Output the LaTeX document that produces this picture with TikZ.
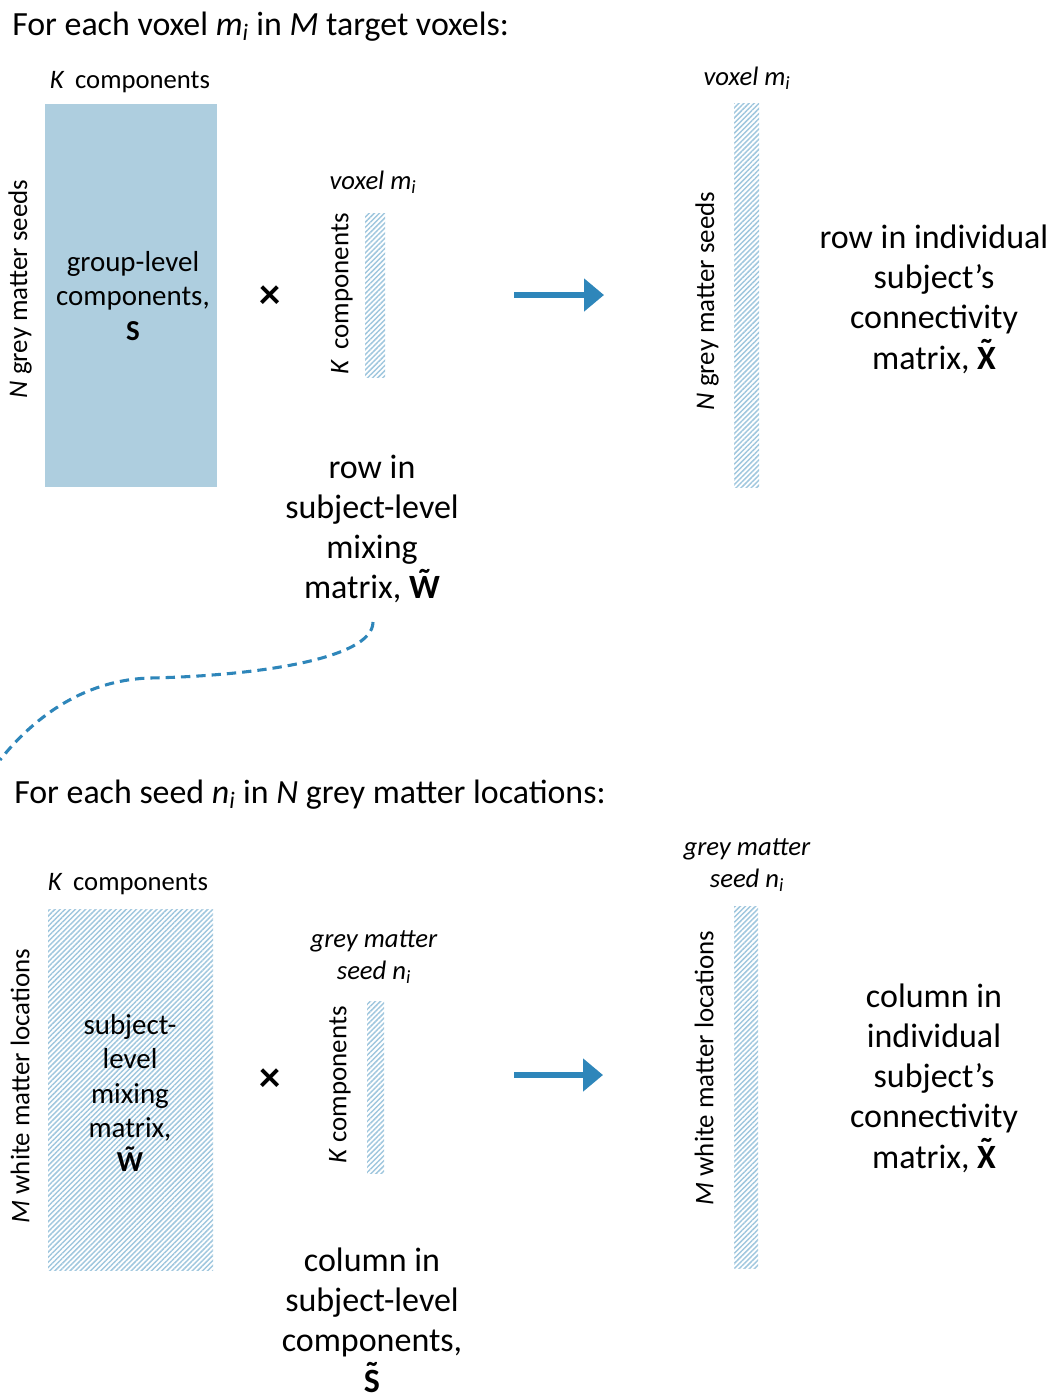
\documentclass[tikz,border=0pt]{standalone}
\usepackage{fontspec}
\setmainfont{Carlito}
\usetikzlibrary{arrows.meta,patterns.meta}
\definecolor{matblue}{RGB}{174,206,223}
\definecolor{hatchblue}{RGB}{160,199,222}
\definecolor{arrblue}{RGB}{46,134,186}
\newcommand{\tildeacc}[1]{\ooalign{#1\cr\hidewidth\raisebox{0.2em}{\char"02DC}\hidewidth\cr}}
\tikzset{
  hatched/.style={pattern={Lines[angle=45,distance=2.7pt,line width=1.1pt]},pattern color=hatchblue,draw=none},
  heading/.style={anchor=west,inner sep=0pt,font=\fontsize{25.4}{30}\selectfont},
  dimlabel/.style={inner sep=0pt,font=\fontsize{20}{24}\selectfont},
  sidelabel/.style={inner sep=0pt,rotate=90,font=\fontsize{20.2}{24}\selectfont},
  bigtext/.style={inner sep=0pt,align=center,font=\fontsize{25.5}{30.2}\selectfont},
  midtext/.style={inner sep=0pt,align=center,font=\fontsize{21.7}{25.8}\selectfont},
  timesmark/.style={inner sep=0pt,font=\fontsize{32}{36}\selectfont\bfseries},
  bigarrow/.style={draw=arrblue,line width=5pt,-{Triangle[length=15pt,width=24pt]}},
  linkcurve/.style={draw=arrblue,line width=2.3pt,dash pattern=on 7pt off 4.5pt}
}
\begin{document}
\begin{tikzpicture}[x=0.75pt,y=-0.75pt]
\useasboundingbox (0,0) rectangle (1051,1397);
% ---------- top panel ----------
\node[heading] (h1) at (12,27) {For each voxel \textit{m\textsubscript{i}} in \textit{M} target voxels:};
\node[dimlabel] (k1) at (130,82) {\textit{K}\, components};
\path[fill=matblue] (45,104) rectangle (217,487);
\node[midtext] (S) at (133,296) {group-level\\components,\\\textbf{S}};
\node[sidelabel] (n1) at (20,289) {\textit{N} grey matter seeds};
\node[timesmark] (x1) at (270,297) {×};
\node[dimlabel] (v1) at (373,182) {\textit{voxel m\textsubscript{i}}};
\path[hatched] (365,213) rectangle (385,377);
\node[sidelabel] (k1b) at (342,294) {\textit{K}\, components};
\node[bigtext] (wrow) at (372,529) {row in\\subject-level\\mixing\\matrix, \textbf{\tildeacc{W}}};
\coordinate (a1s) at (514,295);
\coordinate (a1e) at (604,295);
\draw[bigarrow] (a1s) -- (a1e);
\node[dimlabel] (v2) at (747,78) {\textit{voxel m\textsubscript{i}}};
\path[hatched] (734,103) rectangle (759,487);
\node[sidelabel] (n2) at (707,301) {\textit{N} grey matter seeds};
\node[bigtext] (xrow) at (934,299) {row in individual\\subject’s\\connectivity\\matrix, \textbf{\tildeacc{X}}};
% ---------- link curve ----------
\coordinate (c0) at (373,622);
\coordinate (c1) at (0,760);
\draw[linkcurve] (c0) .. controls (373,660) and (250,676) .. (150,678)
                      .. controls (80,680) and (30,722) .. (c1);
% ---------- bottom panel ----------
\node[heading] (h2) at (14,795) {For each seed \textit{n\textsubscript{i}} in \textit{N} grey matter locations:};
\node[dimlabel] (k2) at (128,884) {\textit{K}\, components};
\path[hatched] (48,909) rectangle (213,1270);
\node[midtext] (W) at (130,1093) {subject-\\level\\mixing\\matrix,\\\textbf{\tildeacc{W}}};
\node[sidelabel] (m1) at (20,1086) {\textit{M} white matter locations};
\node[timesmark] (x2) at (270,1080) {×};
\node[dimlabel,align=center,font=\fontsize{20}{24}\selectfont] (g1) at (374,957) {\textit{grey matter}\\\textit{seed n\textsubscript{i}}};
\path[hatched] (367,1001) rectangle (384,1173);
\node[sidelabel] (k2b) at (340,1085) {\textit{K} components};
\node[bigtext] (scol) at (372,1320) {column in\\subject-level\\components,\\\textbf{\tildeacc{S}}};
\coordinate (a2s) at (514,1075);
\coordinate (a2e) at (603,1075);
\draw[bigarrow] (a2s) -- (a2e);
\node[dimlabel,align=center,font=\fontsize{20}{24}\selectfont] (g2) at (747,865) {\textit{grey matter}\\\textit{seed n\textsubscript{i}}};
\path[hatched] (734,906) rectangle (758,1268);
\node[sidelabel] (m2) at (704,1068) {\textit{M} white matter locations};
\node[bigtext] (xcol) at (934,1078) {column in\\individual\\subject’s\\connectivity\\matrix, \textbf{\tildeacc{X}}};
\end{tikzpicture}
\end{document}
